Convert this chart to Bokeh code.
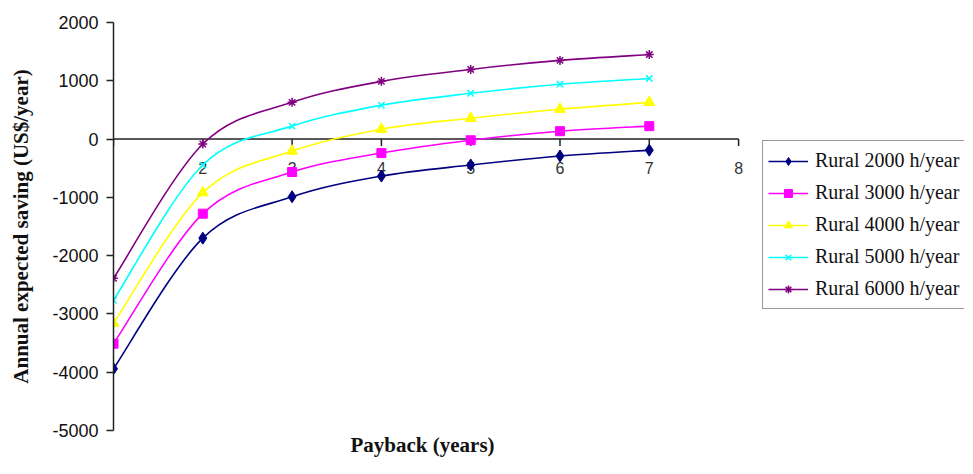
import math
from bokeh.plotting import figure
from bokeh.models import (Range1d, LinearAxis, FixedTicker, Legend, LegendItem,
                          ColumnDataSource, Title)
from bokeh.core.properties import value
from bokeh.embed import file_html
from bokeh.resources import INLINE

# ---- data ----
payback = [1, 2, 3, 4, 5, 6, 7]
rural_2000 = [-3940, -1700, -990, -635, -445, -290, -190]
rural_3000 = [-3510, -1280, -565, -240, -20, 135, 222]
rural_4000 = [-3160, -920, -205, 170, 358, 512, 630]
rural_5000 = [-2765, -445, 222, 580, 785, 940, 1040]
rural_6000 = [-2390, -85, 630, 990, 1195, 1350, 1450]
series_names = ["Rural 2000 h/year", "Rural 3000 h/year", "Rural 4000 h/year",
                "Rural 5000 h/year", "Rural 6000 h/year"]
y_ticks = [-5000, -4000, -3000, -2000, -1000, 0, 1000, 2000]
y_tick_labels = ["-5000", "-4000", "-3000", "-2000", "-1000", "0", "1000", "2000"]
x_ticks = [1, 2, 3, 4, 5, 6, 7, 8]
x_tick_labels = ["", "2", "3", "4", "5", "6", "7", "8"]

series = [rural_2000, rural_3000, rural_4000, rural_5000, rural_6000]
colors = ["#000080", "#FF00FF", "#FFFF00", "#00FFFF", "#800080"]
markers = ["diamond", "square", "triangle", "x", "asterisk"]
sizes = [12, 9, 11, 9, 9]


def smooth(xs, ys):
    """Cubic Bezier segments through the data points (Catmull-Rom style smoothing)."""
    n = len(xs)
    d = dict(x0=[], y0=[], x1=[], y1=[], cx0=[], cy0=[], cx1=[], cy1=[])
    for i in range(n - 1):
        xp, yp = (xs[i - 1], ys[i - 1]) if i > 0 else (xs[i], ys[i])
        xn, yn = (xs[i + 2], ys[i + 2]) if i + 2 < n else (xs[i + 1], ys[i + 1])
        d["x0"].append(xs[i]); d["y0"].append(ys[i])
        d["x1"].append(xs[i + 1]); d["y1"].append(ys[i + 1])
        d["cx0"].append(xs[i] + (xs[i + 1] - xp) / 6)
        d["cy0"].append(ys[i] + (ys[i + 1] - yp) / 6)
        d["cx1"].append(xs[i + 1] - (xn - xs[i]) / 6)
        d["cy1"].append(ys[i + 1] - (yn - ys[i]) / 6)
    return ColumnDataSource(d)


# The plot frame extends to the right so the legend (inside it) is not clipped;
# the x axis itself is drawn only from 1 to 8.
p = figure(width=965, height=458,
           x_range=Range1d(1, 10.53), y_range=Range1d(-5000, 2000),
           output_backend="svg", toolbar_location=None,
           x_axis_location=None, y_axis_location=None,
           min_border_left=113, min_border_right=1,
           min_border_top=22, min_border_bottom=28)
p.outline_line_color = None
p.grid.grid_line_color = None
p.background_fill_color = "white"

# Y axis
yax = LinearAxis(ticker=FixedTicker(ticks=y_ticks),
                 major_label_overrides={t: s for t, s in zip(y_ticks, y_tick_labels)},
                 axis_label="Annual expected saving (US$/year)")
yax.axis_label_text_font = "Liberation Serif"
yax.axis_label_text_font_style = "bold"
yax.axis_label_text_font_size = "21px"
yax.axis_label_text_color = "#111111"
yax.axis_label_standoff = 16
yax.major_label_text_font = "Liberation Sans"
yax.major_label_text_font_size = "18px"
yax.major_label_text_color = "#111111"
yax.major_label_standoff = 8
yax.major_tick_out = 7
yax.major_tick_in = 0
yax.minor_tick_line_color = None
yax.axis_line_width = 1.5
yax.axis_line_color = "#222222"
yax.major_tick_line_width = 1.5
yax.major_tick_line_color = "#222222"
p.add_layout(yax, "left")

# X axis title at the bottom, centred under the 1..8 axis span
xtitle = Title(text="Payback (years)", align="left", offset=237, standoff=0,
               text_font="Liberation Serif", text_font_style="bold",
               text_font_size="21px", text_color="#111111")
p.add_layout(xtitle, "below")

# X axis that crosses at y = 0 (line, downward ticks, labels)
zero = [0] * len(x_ticks)
p.segment(x0=[x_ticks[0]], y0=[0], x1=[x_ticks[-1]], y1=[0],
          line_color="#222222", line_width=1.5)
p.ray(x=x_ticks, y=zero, length=7, length_units="screen", angle=-math.pi / 2,
      line_color="#222222", line_width=1.5)
p.text(x=x_ticks, y=zero, text=x_tick_labels, text_align="center",
       text_baseline="top", y_offset=23, text_font=value("Liberation Sans"),
       text_font_size="16px", text_color="#333333")

items = []
for name, ys, c, m, s in zip(series_names, series, colors, markers, sizes):
    src = smooth(payback, ys)
    r_line = p.bezier(x0="x0", y0="y0", x1="x1", y1="y1", cx0="cx0", cy0="cy0",
                      cx1="cx1", cy1="cy1", source=src, line_color=c, line_width=1.6)
    if m in ("x", "asterisk"):
        r_pt = p.scatter(payback, ys, marker=m, size=s, line_color=c, line_width=1.5)
    else:
        r_pt = p.scatter(payback, ys, marker=m, size=s, fill_color=c, line_color=c)
    items.append(LegendItem(label=name, renderers=[r_line, r_pt]))

legend = Legend(items=items, location=(649, 121))
legend.label_text_font = "Liberation Serif"
legend.label_text_font_size = "20px"
legend.label_text_color = "#111111"
legend.border_line_color = "#333333"
legend.border_line_width = 1.5
legend.background_fill_color = "white"
legend.padding = 5
legend.spacing = 3
legend.label_height = 29
legend.glyph_height = 20
legend.glyph_width = 40
legend.label_standoff = 7
legend.margin = 0
p.add_layout(legend, "center")

open("out.html", "w").write(file_html(p, INLINE))
